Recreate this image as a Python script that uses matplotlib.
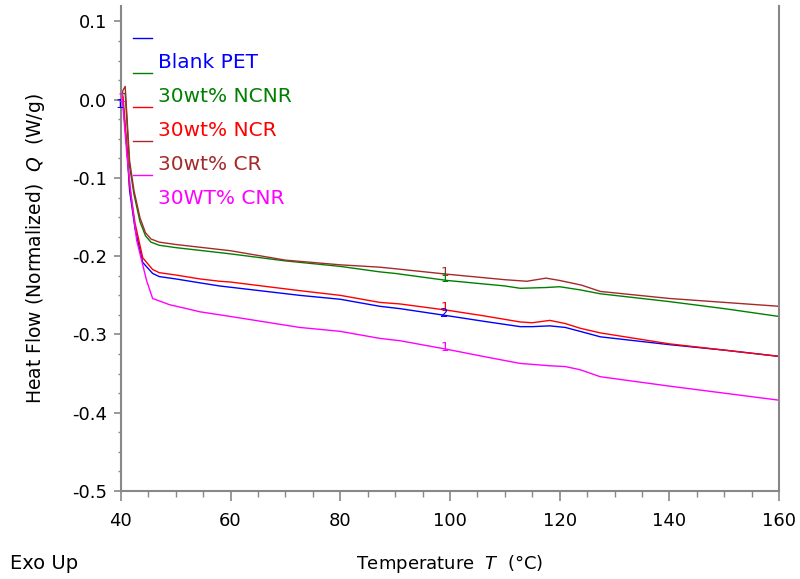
import numpy as np
import matplotlib
matplotlib.use("Agg")
import matplotlib.pyplot as plt
from matplotlib.ticker import MultipleLocator, FormatStrFormatter

plt.rcParams['font.family'] = ['DejaVu Sans']
plt.rcParams['mathtext.fontset'] = 'dejavusans'

# values (temperature in degC, heat flow in W/g)
t_pet = [39.9, 40.4, 41.1, 41.6, 42.6, 44.0, 45.8, 47.0, 50.0, 54.4, 58.0, 72.6,
         80.0, 87.2, 90.9, 99.5, 106.0, 112.8, 115.0, 118.2, 121.0, 123.7,
         127.4, 140.0, 150.0, 160.0]
q_pet = [0.000, -0.005, -0.061, -0.116, -0.165, -0.208, -0.222, -0.226, -0.229,
         -0.234, -0.238, -0.250, -0.255, -0.264, -0.267, -0.276, -0.283, -0.290,
         -0.290, -0.289, -0.291, -0.296, -0.303, -0.313, -0.320, -0.328]

t_ncnr = [39.9, 40.4, 40.8, 41.6, 42.4, 43.5, 44.5, 45.5, 47.0, 50.0, 55.0, 60.0,
          70.0, 80.0, 87.2, 90.0, 99.5, 110.0, 112.8, 117.5, 120.0, 123.7, 127.4,
          140.0, 150.0, 160.0]
q_ncnr = [0.000, 0.008, 0.008, -0.085, -0.121, -0.156, -0.174, -0.182, -0.186,
          -0.189, -0.193, -0.197, -0.206, -0.213, -0.220, -0.222, -0.231, -0.238,
          -0.241, -0.240, -0.239, -0.243, -0.248, -0.258, -0.267, -0.277]

t_ncr = [39.9, 40.4, 41.1, 41.6, 42.6, 44.0, 45.8, 47.0, 50.0, 54.4, 58.0, 60.0,
         72.6, 80.0, 87.2, 90.9, 99.5, 106.0, 112.8, 115.0, 118.2, 121.0, 123.7,
         127.4, 140.0, 150.0, 160.0]
q_ncr = [0.000, 0.005, -0.060, -0.110, -0.158, -0.202, -0.217, -0.221, -0.224,
         -0.229, -0.232, -0.233, -0.244, -0.250, -0.259, -0.261, -0.269, -0.276,
         -0.284, -0.285, -0.282, -0.286, -0.292, -0.298, -0.312, -0.320, -0.328]

t_cr = [39.9, 40.4, 40.8, 41.6, 42.4, 43.5, 44.5, 45.5, 47.0, 50.0, 55.0, 60.0,
        70.0, 80.0, 87.2, 90.0, 99.5, 110.0, 114.0, 117.5, 120.0, 124.0, 127.4,
        140.0, 150.0, 160.0]
q_cr = [0.000, 0.012, 0.017, -0.078, -0.116, -0.151, -0.170, -0.178, -0.182,
        -0.185, -0.189, -0.193, -0.205, -0.211, -0.214, -0.216, -0.223, -0.230,
        -0.232, -0.228, -0.231, -0.237, -0.245, -0.254, -0.259, -0.264]

t_cnr = [39.9, 40.3, 41.1, 42.0, 42.9, 44.7, 45.8, 48.9, 52.0, 54.4, 60.0, 72.6,
         80.0, 87.2, 90.9, 99.5, 106.0, 112.8, 118.2, 121.0, 123.7, 127.4, 140.0,
         150.0, 160.0]
q_cnr = [0.003, 0.000, -0.070, -0.130, -0.180, -0.231, -0.254, -0.262, -0.267,
         -0.271, -0.277, -0.291, -0.296, -0.305, -0.308, -0.319, -0.328, -0.337,
         -0.340, -0.341, -0.345, -0.354, -0.366, -0.375, -0.384]

labels = ['Blank PET', '30wt% NCNR', '30wt% NCR', '30wt% CR', '30WT% CNR']
colors = ['#0000ff', '#008000', '#ff0000', '#a52a2a', '#ff00ff']
series = [(t_pet, q_pet), (t_ncnr, q_ncnr), (t_ncr, q_ncr), (t_cr, q_cr),
          (t_cnr, q_cnr)]

# small cursor labels from the analysis software: (T, Q, text, colour index)
marks = [(99.0, -0.2205, '1', 3), (99.0, -0.2285, '1', 1), (99.0, -0.2650, '1', 2),
         (99.0, -0.2735, '2', 0), (99.0, -0.3170, '1', 4),
         (39.9, -0.006, '1', 0), (40.2, 0.002, '1', 4)]

fig = plt.figure(figsize=(8, 5.79), dpi=100)
ax = fig.add_axes([0.151, 0.152, 0.823, 0.838])

handles = []
for (t, q), c, lab in zip(series, colors, labels):
    h, = ax.plot(t, q, color=c, lw=1.0, label=lab)
    handles.append(h)

for t, q, s, ci in marks:
    ax.text(t, q, s, color=colors[ci], fontsize=9.5, ha='center', va='center')

ax.set_xlim(40, 160)
ax.set_ylim(-0.5, 0.12)
ax.xaxis.set_major_locator(MultipleLocator(20))
ax.xaxis.set_minor_locator(MultipleLocator(5))
ax.yaxis.set_major_locator(MultipleLocator(0.1))
ax.yaxis.set_minor_locator(MultipleLocator(0.025))
ax.yaxis.set_major_formatter(FormatStrFormatter('%.1f'))

ax.spines['top'].set_visible(False)
for s in ['left', 'right', 'bottom']:
    ax.spines[s].set_color('#888888')
    ax.spines[s].set_linewidth(1.5)
ax.tick_params(which='both', direction='out', colors='#888888',
               labelcolor='black', labelsize=13, top=False, right=False)
ax.tick_params(axis='x', which='major', length=7, width=1.2, pad=8)
ax.tick_params(axis='x', which='minor', length=4.5, width=1.0)
ax.tick_params(axis='y', which='major', length=5, width=1.2, pad=5)
ax.tick_params(axis='y', which='minor', length=2.5, width=1.0)

ax.set_xlabel('Temperature  $T$  (°C)', fontsize=13, labelpad=17)
ax.set_ylabel('Heat Flow (Normalized)  $Q$  (W/g)', fontsize=13.5, labelpad=18)
fig.text(0.0125, 0.027, 'Exo Up', fontsize=14, va='center', ha='left')

leg = ax.legend(handles=handles, loc='upper left', bbox_to_anchor=(0.018, 0.949),
                frameon=False, fontsize=14.5, borderpad=0, borderaxespad=0,
                handlelength=0.95, handletextpad=0.3, labelspacing=0.75)
for txt, c in zip(leg.get_texts(), colors):
    txt.set_color(c)
    txt.set_y(-22)

fig.savefig('out.png', dpi=100)
